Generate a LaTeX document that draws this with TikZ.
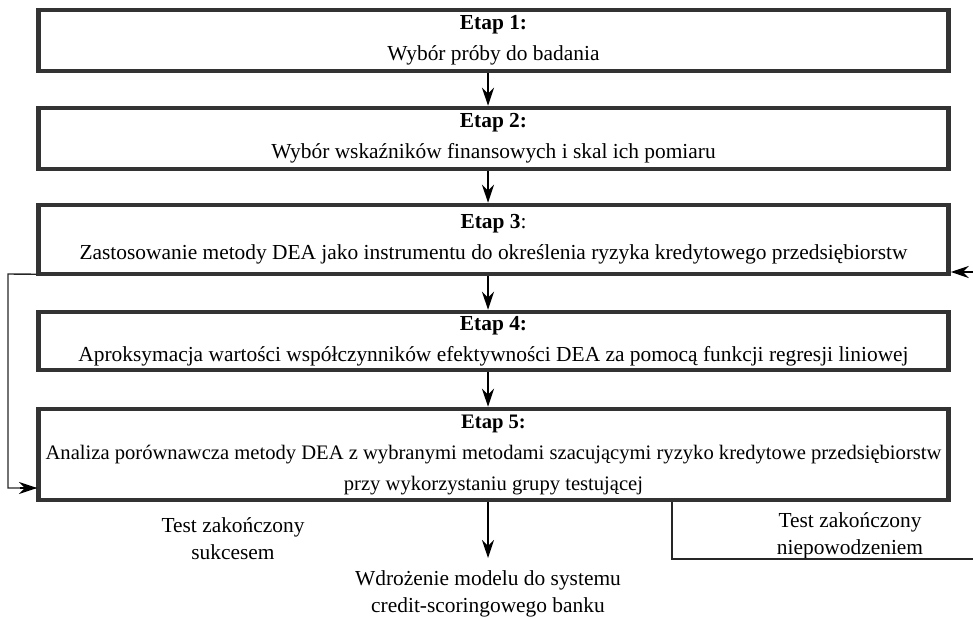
\documentclass[tikz,border=0pt]{standalone}
\usepackage{fontspec}
\setmainfont{Liberation Serif}
\usetikzlibrary{arrows.meta,positioning,calc}

\begin{document}
\begin{tikzpicture}[
    x=0.5pt, y=-0.5pt,
    etap/.style={
        draw=black!80, line width=2.25pt,
        minimum width=455pt, minimum height=#1,
        align=center, inner sep=0pt,
        font=\fontsize{10.7}{15.5}\selectfont
    },
    arrow/.style={
        -{Stealth[length=9pt,width=6pt,inset=3pt]}, line width=0.7pt, black
    },
    link/.style={
        line width=0.7pt, black!85
    },
    desc/.style={
        font=\fontsize{10.7}{13.5}\selectfont, align=center, inner sep=0pt
    }
]
\useasboundingbox (0,0) rectangle (973,619);

% Stages
\node[etap=30.5pt] (b1) at (493.5,40.5)
    {\textbf{Etap 1:}\\Wybór próby do badania};

\node[etap=30.5pt] (b2) at (493.5,138.5)
    {\textbf{Etap 2:}\\Wybór wskaźników finansowych i skal ich pomiaru};

\node[etap=34.5pt] (b3) at (493.5,239.5)
    {\textbf{Etap 3}:\\Zastosowanie metody DEA jako instrumentu do określenia ryzyka kredytowego przedsiębiorstw};

\node[etap=29pt] (b4) at (493.5,341)
    {\textbf{Etap 4:}\\Aproksymacja wartości współczynników efektywności DEA za pomocą funkcji regresji liniowej};

\node[etap=45.5pt, font=\fontsize{10.3}{15.5}\selectfont] (b5) at (493.5,454.5)
    {\textbf{Etap 5:}\\Analiza porównawcza metody DEA z wybranymi metodami szacującymi ryzyko kredytowe przedsiębiorstw\\przy wykorzystaniu grupy testującej};

% Outcomes
\node[desc] (ok) at (233,539) {Test zakończony\\sukcesem};
\node[desc] (fail) at (850,536) {Test zakończony\\niepowodzeniem};
\node[desc,anchor=north] (impl) at (488,570) {Wdrożenie modelu do systemu\\credit-scoringowego banku};

% Arrows between stages
\draw[arrow] (b1.south -| 488,0) -- (b2.north -| 488,0);
\draw[arrow] (b2.south -| 488,0) -- (b3.north -| 488,0);
\draw[arrow] (b3.south -| 488,0) -- (b4.north -| 488,0);
\draw[arrow] (b4.south -| 488,0) -- (b5.north -| 488,0);
\draw[arrow] (b5.south -| 488,0) -- (488,558);

% Loop back on the left
\coordinate (lft) at (8,274);
\coordinate (lin) at (37,488);
\draw[link] (b3.south west) ++(0,-2) -- (lft) |- (lin);
\draw[arrow] (20,488) -- (lin);

% Loop back on the right
\coordinate (rin) at (973,272);
\coordinate (rout) at (973,559);
\coordinate (fk) at (672,0);
\draw[link] (fk |- b5.south) |- (rout);
\draw[arrow] (rin) -- (rin -| b3.east);
\end{tikzpicture}
\end{document}
